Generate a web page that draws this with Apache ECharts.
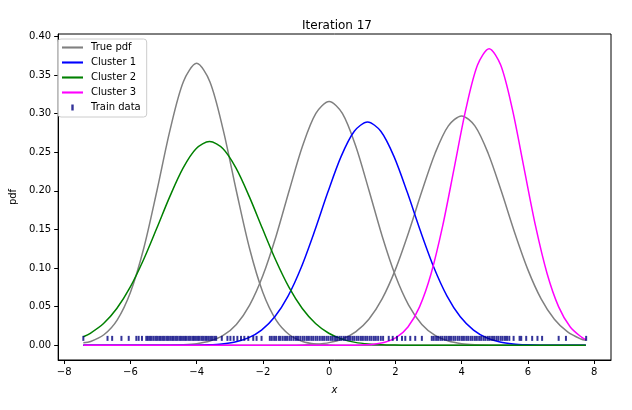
<!DOCTYPE html>
<html>
<head>
<meta charset="utf-8">
<script src="https://cdn.jsdelivr.net/npm/echarts@6/dist/echarts.min.js"></script>
<style>
  html, body { margin: 0; padding: 0; background: #fff; }
  #chart { width: 632px; height: 410px; }
</style>
</head>
<body>
<div id="chart"></div>
<script>
// 真实分布（三条灰线），每条曲线自己的采样点
const trueX1 = [-7.42, -7.2, -6.8, -6.4, -6.0, -5.6, -5.2, -4.8, -4.4, -4.0, -3.6, -3.2, -2.8, -2.4, -2.0,
                -1.6, -1.2, -0.8, -0.4, 0.0, 0.4, 7.75];
const trueY1 = [0.0033, 0.0050, 0.0137, 0.0327, 0.0684, 0.1250, 0.1998, 0.2792, 0.3413, 0.3650, 0.3413,
                0.2792, 0.1998, 0.1250, 0.0684, 0.0327, 0.0137, 0.0050, 0.0016, 0.0005, 0.0001, 0];

const trueX2 = [-7.42, -4.8, -4.4, -4.0, -3.6, -3.2, -2.8, -2.4, -2.0, -1.6, -1.2, -0.8, -0.4, 0, 0.4, 0.8,
                1.2, 1.6, 2.0, 2.4, 2.8, 3.2, 3.6, 4.0, 4.4, 4.8, 7.75];
const trueY2 = [0, 0.0002, 0.0007, 0.0021, 0.0055, 0.0128, 0.0271, 0.0520, 0.0903, 0.1416, 0.2011, 0.2583,
                0.3002, 0.3156, 0.3002, 0.2583, 0.2011, 0.1416, 0.0903, 0.0520, 0.0271, 0.0128, 0.0055,
                0.0021, 0.0007, 0.0002, 0];

const trueX3 = [-7.42, -1.2, -0.8, -0.4, 0, 0.4, 0.8, 1.2, 1.6, 2.0, 2.4, 2.8, 3.2, 3.6, 4.0, 4.4, 4.8, 5.2,
                5.6, 6.0, 6.4, 6.8, 7.2, 7.6, 7.75];
const trueY3 = [0, 0.0002, 0.0005, 0.0014, 0.0035, 0.0082, 0.0174, 0.0338, 0.0601, 0.0980, 0.1461, 0.1993,
                0.2487, 0.2841, 0.2970, 0.2841, 0.2487, 0.1993, 0.1461, 0.0980, 0.0601, 0.0338, 0.0174,
                0.0082, 0.0065];

// 估计的三个分量
const c1X = [-7.42, -4.44, -4.04, -3.64, -3.24, -2.84, -2.44, -2.04, -1.64, -1.24, -0.84, -0.44, -0.04,
             0.36, 0.76, 1.16, 1.56, 1.96, 2.36, 2.76, 3.16, 3.56, 3.96, 4.36, 4.76, 5.16, 5.56, 5.96,
             6.36, 6.76, 7.75];
const c1Y = [0, 0.0001, 0.0002, 0.0007, 0.0018, 0.0043, 0.0096, 0.0197, 0.0369, 0.0637, 0.1011, 0.1476,
             0.1980, 0.2443, 0.2771, 0.2890, 0.2771, 0.2443, 0.1980, 0.1476, 0.1011, 0.0637, 0.0369,
             0.0197, 0.0096, 0.0043, 0.0018, 0.0007, 0.0002, 0.0001, 0];

const c2X = [-7.42, -7.21, -6.81, -6.41, -6.01, -5.61, -5.21, -4.81, -4.41, -4.01, -3.61, -3.21, -2.81,
             -2.41, -2.01, -1.61, -1.21, -0.81, -0.41, -0.01, 0.39, 0.79, 1.19, 1.59, 1.99, 2.39, 7.75];
const c2Y = [0.0111, 0.0156, 0.0282, 0.0476, 0.0749, 0.1101, 0.1508, 0.1925, 0.2293, 0.2547, 0.2637,
             0.2547, 0.2293, 0.1925, 0.1508, 0.1101, 0.0749, 0.0476, 0.0282, 0.0156, 0.0080, 0.0038,
             0.0017, 0.0007, 0.0003, 0.0001, 0];

const c3X = [-7.42, 0.63, 0.98, 1.33, 1.68, 2.03, 2.38, 2.73, 3.08, 3.43, 3.78, 4.13, 4.48, 4.83, 5.18,
             5.53, 5.88, 6.23, 6.58, 6.93, 7.28, 7.63, 7.75];
const c3Y = [0, 0.0001, 0.0004, 0.0013, 0.0039, 0.0102, 0.0238, 0.0498, 0.0930, 0.1549, 0.2304, 0.3060,
             0.3628, 0.3840, 0.3628, 0.3060, 0.2304, 0.1549, 0.0930, 0.0498, 0.0238, 0.0102, 0.0074];

// 训练数据（地毯图）
const trainY = 0.009;
const trainX = [
  -7.42, -6.69, -6.55, -6.27, -6.05, -5.82, -5.75, -5.65,
  -5.52, -5.47, -5.41, -5.36, -5.30, -5.24, -5.19, -5.13, -5.08, -5.02, -4.97, -4.91, -4.86, -4.80,
  -4.74, -4.69, -4.63, -4.58, -4.52, -4.47, -4.41, -4.35, -4.30, -4.24, -4.19, -4.13, -4.08, -4.02,
  -3.96, -3.91, -3.85, -3.80, -3.74, -3.69, -3.63, -3.57, -3.52, -3.46, -3.41,
  -3.24, -3.07, -2.98, -2.88, -2.77, -2.66, -2.56, -2.44, -2.29, -2.19, -2.04,
  -1.79, -1.73, -1.66, -1.60, -1.52, -1.47, -1.40, -1.33, -1.27, -1.20, -1.14, -1.07, -1.00, -0.94,
  -0.87, -0.80, -0.74, -0.67, -0.61, -0.54, -0.48, -0.41, -0.35, -0.28, -0.21, -0.15, -0.08, -0.02,
  0.05, 0.11, 0.18, 0.24, 0.31, 0.37, 0.44, 0.50, 0.57, 0.63, 0.70, 0.76, 0.83, 0.89, 0.96, 1.02,
  1.09, 1.15, 1.22, 1.28, 1.35, 1.41, 1.48, 1.56, 1.63,
  1.80, 1.92, 2.05, 2.20, 2.30, 2.45, 2.60, 2.80,
  3.10, 3.16, 3.23, 3.29, 3.36, 3.42, 3.49, 3.55, 3.62, 3.68, 3.75, 3.81, 3.88, 3.94, 4.01, 4.07,
  4.14, 4.20, 4.27, 4.33, 4.40, 4.46, 4.53, 4.59, 4.66, 4.72, 4.79, 4.85, 4.92, 4.98, 5.05, 5.11,
  5.18, 5.24, 5.31, 5.37, 5.44,
  5.57, 5.75, 5.80, 5.95, 6.13, 6.29, 6.43, 6.93, 7.15, 7.76
];

// 刻度
const xTicks = [-8, -6, -4, -2, 0, 2, 4, 6, 8];
const yTicks = [0, 0.05, 0.1, 0.15, 0.2, 0.25, 0.3, 0.35, 0.4];

let chart = echarts.init(document.getElementById('chart'));

const font = 'DejaVu Sans';
const lineIcon = 'path://M0,0H20V2H0Z';
const rugIcon = 'path://M0,0H2V5H0Z';

function curve(name, xs, ys, color) {
  return {
    name: name,
    type: 'line',
    data: xs.map((x, i) => [x, ys[i]]),
    showSymbol: false,
    smooth: 0.3,
    lineStyle: { color: color, width: 1.5 },
    itemStyle: { color: color },
    animation: false,
    z: 2
  };
}

let option = {
  animation: false,
  title: {
    text: 'Iteration 17',
    left: 332,
    top: 15,
    textAlign: 'center',
    textStyle: { fontFamily: font, fontSize: 12, fontWeight: 'normal', color: '#000' }
  },
  legend: {
    left: 58,
    top: 39,
    orient: 'vertical',
    itemWidth: 21,
    itemHeight: 6,
    itemGap: 2,
    padding: [2, 6, 3, 4],
    backgroundColor: 'rgba(255,255,255,0.8)',
    borderColor: '#cccccc',
    borderWidth: 1,
    borderRadius: 3,
    textStyle: { fontFamily: font, fontSize: 10, color: '#000', lineHeight: 13, padding: [0, 0, 0, 3] },
    data: [
      { name: 'True pdf', icon: lineIcon },
      { name: 'Cluster 1', icon: lineIcon },
      { name: 'Cluster 2', icon: lineIcon },
      { name: 'Cluster 3', icon: lineIcon },
      { name: 'Train data', icon: rugIcon }
    ]
  },
  grid: {
    left: 53,
    right: 21,
    top: 34,
    bottom: 50,
    show: true,
    borderColor: '#000',
    borderWidth: 1,
    backgroundColor: 'transparent'
  },
  xAxis: {
    type: 'value',
    min: -8.18,
    max: 8.51,
    name: 'x',
    nameLocation: 'middle',
    nameGap: 25,
    nameTextStyle: { fontFamily: font, fontSize: 10, fontStyle: 'italic', color: '#000' },
    axisLine: { show: true, onZero: false, lineStyle: { color: '#000', width: 1 } },
    axisTick: { show: true, inside: false, length: 4, customValues: xTicks, lineStyle: { color: '#000' } },
    axisLabel: {
      customValues: xTicks,
      margin: 7,
      fontFamily: font,
      fontSize: 10,
      color: '#000',
      formatter: v => (v < 0 ? '\u2212' + Math.abs(v) : '' + v)
    },
    splitLine: { show: false }
  },
  yAxis: {
    type: 'value',
    min: -0.019,
    max: 0.403,
    name: 'pdf',
    nameLocation: 'middle',
    nameGap: 38,
    nameTextStyle: { fontFamily: font, fontSize: 10, color: '#000' },
    axisLine: { show: true, onZero: false, lineStyle: { color: '#000', width: 1 } },
    axisTick: { show: true, inside: false, length: 4, customValues: yTicks, lineStyle: { color: '#000' } },
    axisLabel: {
      customValues: yTicks,
      margin: 7,
      fontFamily: font,
      fontSize: 10,
      color: '#000',
      formatter: v => v.toFixed(2)
    },
    splitLine: { show: false }
  },
  series: [
    curve('True pdf', trueX1, trueY1, '#808080'),
    curve('True pdf', trueX2, trueY2, '#808080'),
    curve('True pdf', trueX3, trueY3, '#808080'),
    curve('Cluster 1', c1X, c1Y, '#0000ff'),
    curve('Cluster 2', c2X, c2Y, '#008000'),
    curve('Cluster 3', c3X, c3Y, '#ff00ff'),
    {
      name: 'Train data',
      type: 'scatter',
      data: trainX.map(x => [x, trainY]),
      symbol: 'rect',
      symbolSize: [2, 5],
      itemStyle: { color: '#000080', opacity: 0.8 },
      animation: false,
      z: 3
    }
  ]
};

chart.setOption(option);
</script>
</body>
</html>
